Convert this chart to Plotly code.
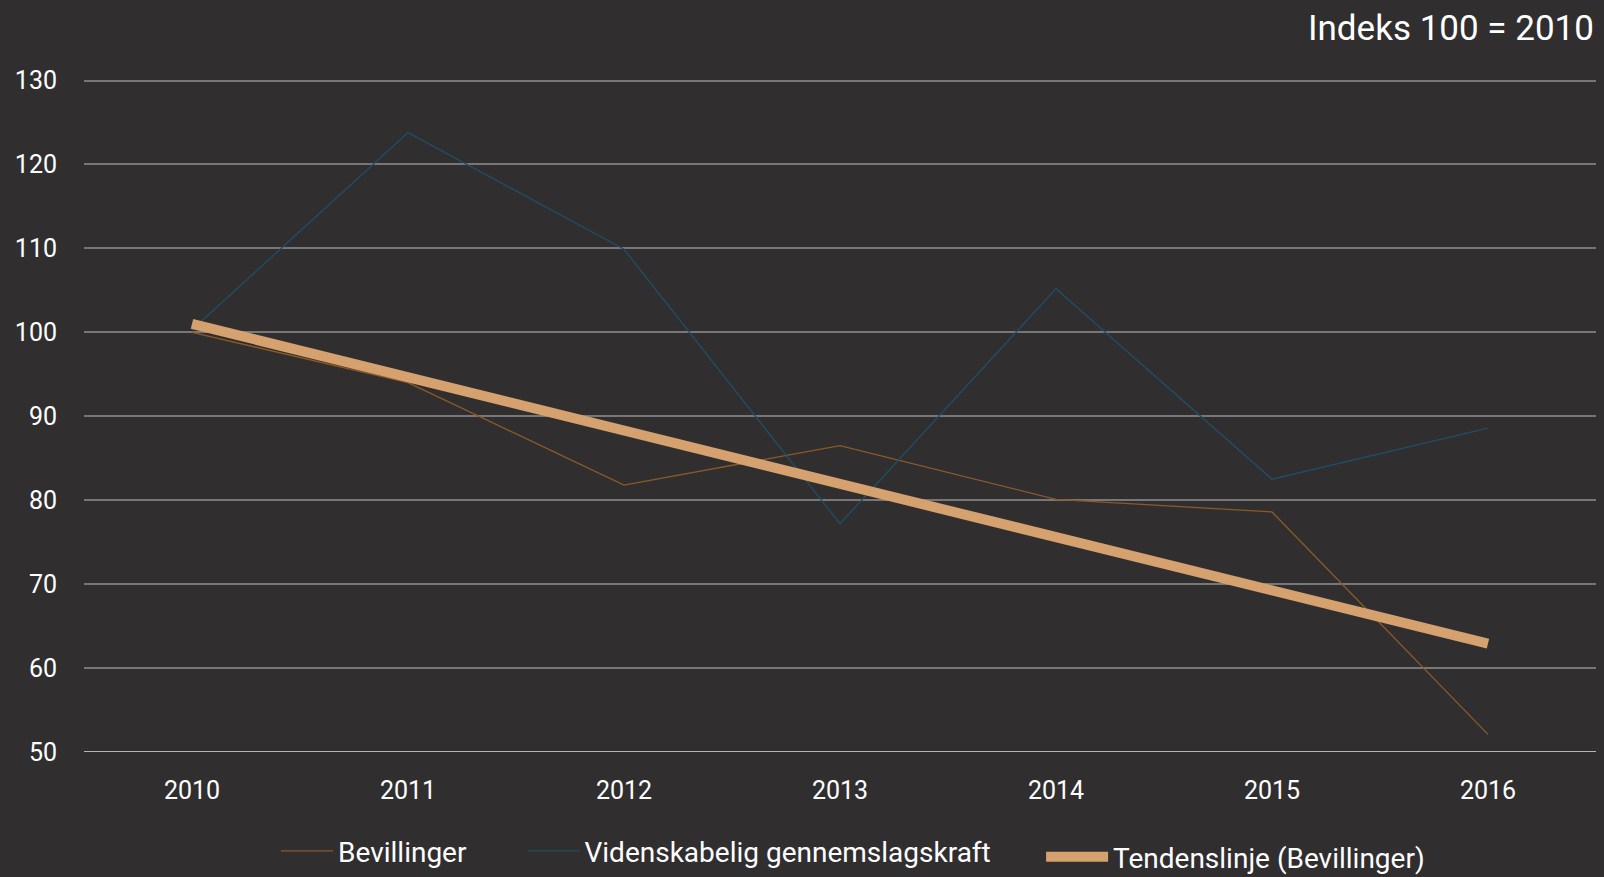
import plotly.graph_objects as go

# data (index 100 = 2010)
years = ['2010', '2011', '2012', '2013', '2014', '2015', '2016']
bevillinger = [100.0, 94.0, 81.8, 86.5, 80.1, 78.6, 52.1]
gennemslagskraft = [100.3, 123.8, 109.9, 77.2, 105.2, 82.5, 88.6]
tendens = [101.0, 94.6, 88.3, 82.0, 75.6, 69.3, 62.9]
y_ticks = [50, 60, 70, 80, 90, 100, 110, 120, 130]

bg = '#302e2f'
font_name = 'Roboto'

fig = go.Figure()
fig.add_trace(go.Scatter(
    x=years, y=bevillinger, mode='lines', name='Bevillinger',
    line=dict(color='#8c5a28', width=1.3), legend='legend',
))
fig.add_trace(go.Scatter(
    x=years, y=gennemslagskraft, mode='lines', name='Videnskabelig gennemslagskraft',
    line=dict(color='#1f4f68', width=1.3), legend='legend2',
))
fig.add_trace(go.Scatter(
    x=years, y=tendens, mode='lines', name='Tendenslinje (Bevillinger)',
    line=dict(color='#d5a16e', width=10), legend='legend3',
))

# one legend per entry, so each can sit where it does in the reference
leg = dict(orientation='h', xanchor='left', yanchor='middle', itemwidth=52,
           font=dict(size=28), bgcolor='rgba(0,0,0,0)', borderwidth=0)

fig.update_layout(
    width=1604, height=877,
    paper_bgcolor=bg, plot_bgcolor=bg,
    font=dict(family=font_name, color='white', size=25),
    margin=dict(l=84, r=8, t=78, b=125, autoexpand=False),
    showlegend=True,
    legend=dict(leg, x=0.127, y=-0.147),
    legend2=dict(leg, x=0.29, y=-0.147),
    legend3=dict(leg, x=0.633, y=-0.156, itemwidth=62),
    xaxis=dict(
        type='category', range=[-0.5, 6.5], showgrid=False,
        showline=False, zeroline=False, ticks='', ticklabelstandoff=21,
    ),
    yaxis=dict(
        range=[50, 130.3], tickvals=y_ticks, showgrid=True,
        gridcolor='#777777', gridwidth=2, zeroline=False, showline=False,
        ticks='', ticklabelstandoff=26,
    ),
    annotations=[dict(
        text='Indeks 100 = 2010', xref='paper', yref='paper',
        x=1.0, y=1.074, xanchor='right', yanchor='middle',
        showarrow=False, font=dict(size=35, color='white'),
    )],
    shapes=[dict(
        type='line', xref='paper', yref='y', x0=0, x1=1, y0=50, y1=50,
        line=dict(color='#b5b5b5', width=2), layer='below',
    )],
)

fig.write_html('out.html', config={'displayModeBar': False},
               post_script="document.body.style.margin='0';document.body.style.background='#302e2f';")
